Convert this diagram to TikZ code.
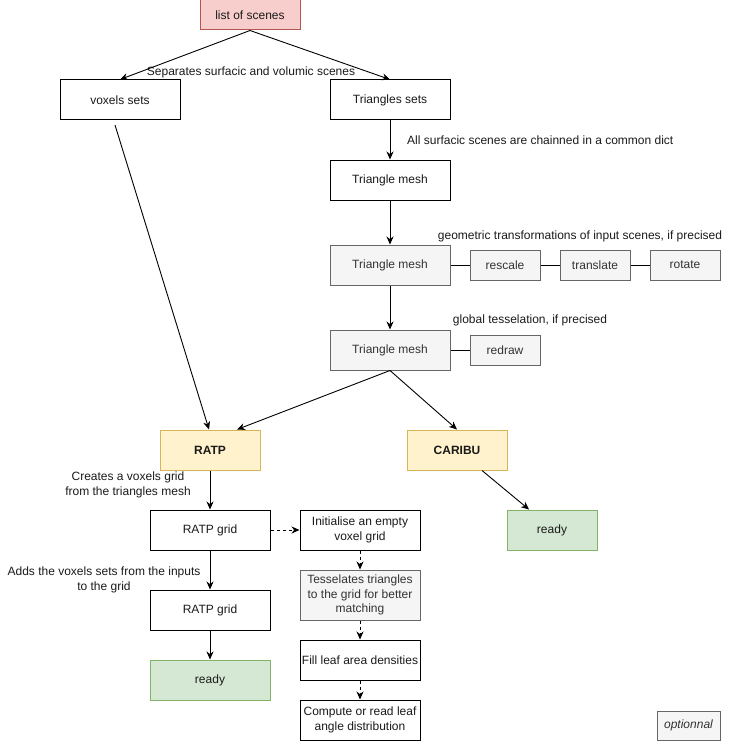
\documentclass[tikz,border=0pt]{standalone}
\usepackage{fontspec}
\setmainfont{Liberation Sans}
\usetikzlibrary{arrows.meta}
\definecolor{redfill}{HTML}{F8CECC}
\definecolor{redline}{HTML}{B85450}
\definecolor{greyfill}{HTML}{F5F5F5}
\definecolor{greyline}{HTML}{666666}
\definecolor{greytext}{HTML}{333333}
\definecolor{yelfill}{HTML}{FFF2CC}
\definecolor{yelline}{HTML}{D6B656}
\definecolor{grnfill}{HTML}{D5E8D4}
\definecolor{grnline}{HTML}{82B366}
\definecolor{txt}{HTML}{1A1A1A}
\begin{document}
\begin{tikzpicture}[x=1pt,y=-1pt,
  every node/.style={font=\fontsize{12}{14.5}\selectfont, text=txt},
  box/.style={draw=black, line width=1pt, fill=white, minimum width=#1, minimum height=40pt, inner sep=1pt, align=center},
  box/.default=120pt,
  gbox/.style={box=#1, draw=greyline, fill=greyfill, text=greytext},
  gbox/.default=120pt,
  ybox/.style={box=100pt, draw=yelline, fill=yelfill, font=\fontsize{12}{14.5}\selectfont\bfseries},
  grbox/.style={box=#1, draw=grnline, fill=grnfill},
  lab/.style={align=center, inner sep=0pt},
  arr/.style={-{Stealth[length=8pt,width=7pt]}, line width=0.9pt, black},
  darr/.style={arr, dash pattern=on 3pt off 3pt},
  ln/.style={line width=0.9pt, black}
]
\useasboundingbox (0,0) rectangle (731,741);
% nodes
\node[box=100pt, minimum height=30pt, draw=redline, fill=redfill] (list) at (250,15) {list of scenes};
\node[box] (vox) at (120,100) {voxels sets};
\node[box] (tri) at (390,100) {Triangles sets};
\node[box] (m1) at (390,180) {Triangle mesh};
\node[gbox] (m2) at (390,265) {Triangle mesh};
\node[gbox=70pt, minimum height=30pt] (resc) at (505,265) {rescale};
\node[gbox=70pt, minimum height=30pt] (trans) at (595,265) {translate};
\node[gbox=70pt, minimum height=30pt] (rot) at (685,265) {rotate};
\node[gbox] (m3) at (390,350) {Triangle mesh};
\node[gbox=70pt, minimum height=30pt] (redr) at (505,350) {redraw};
\node[ybox] (ratp) at (210,450) {RATP};
\node[ybox] (carib) at (457,450) {CARIBU};
\node[grbox=90pt] (ready2) at (552,530) {ready};
\node[box] (g1) at (210,530) {RATP grid};
\node[box] (g2) at (210,610) {RATP grid};
\node[grbox=120pt] (ready1) at (210,680) {ready};
\node[box] (init) at (360,530) {Initialise an empty\\voxel grid};
\node[gbox, minimum height=50pt] (tess) at (360,595) {Tesselates triangles\\to the grid for better\\matching};
\node[box] (fill) at (360,660) {Fill leaf area densities};
\node[box] (comp) at (360,720) {Compute or read leaf\\angle distribution};
\node[gbox=63pt, minimum height=29pt, line width=0.8pt, font=\fontsize{12}{14.5}\selectfont\itshape] (opt) at (688.5,725.5) {optionnal};
% labels
\node[lab] (l1) at (251,72) {Separates surfacic and volumic scenes};
\node[lab, anchor=west] (l2) at (407,140) {All surfacic scenes are chainned in a common dict};
\node[lab] (l3) at (580,236) {geometric transformations of input scenes, if precised};
\node[lab] (l4) at (530,320) {global tesselation, if precised};
\node[lab] (l5) at (128,485) {Creates a voxels grid\\from the triangles mesh};
\node[lab] (l6) at (104,580) {Adds the voxels sets from the inputs\\to the grid};
% connectors
\coordinate (voxstart) at (115,125);
\draw[arr] (list.south) -- (vox.north);
\draw[arr] (list.south) -- (tri.north);
\draw[arr] (tri) -- (m1);
\draw[arr] (m1) -- (m2);
\draw[arr] (m2) -- (m3);
\draw[ln] (m2) -- (resc);
\draw[ln] (resc) -- (trans);
\draw[ln] (trans) -- (rot);
\draw[ln] (m3) -- (redr);
\draw[arr] (voxstart) -- ([xshift=-1pt]ratp.north);
\draw[arr] (m3.south) -- ([xshift=27pt]ratp.north);
\draw[arr] (m3.south) -- (carib.north);
\draw[arr] ([xshift=25pt]carib.south) -- ([xshift=-23pt]ready2.north);
\draw[arr] (ratp) -- (g1);
\draw[arr] (g1) -- (g2);
\draw[arr] (g2) -- (ready1);
\draw[darr] (g1) -- (init);
\draw[darr] (init) -- (tess);
\draw[darr] (tess) -- (fill);
\draw[darr] (fill) -- (comp);
\end{tikzpicture}
\end{document}
